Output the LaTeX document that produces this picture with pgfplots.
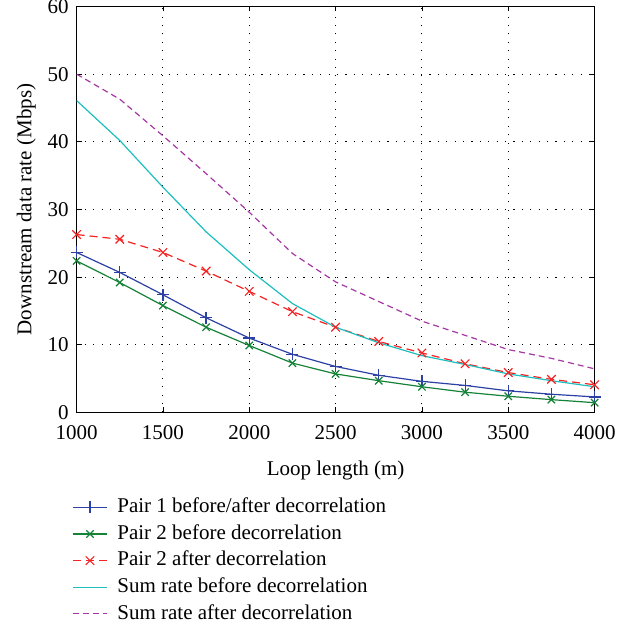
\documentclass[border=0pt]{standalone}
\usepackage{fontspec}
\setmainfont{Liberation Serif}
\usepackage{pgfplots}
\pgfplotsset{compat=1.18}

\definecolor{pairone}{RGB}{45,65,165}
\definecolor{pairtwo}{RGB}{20,130,55}
\definecolor{pairtwoafter}{RGB}{245,35,35}
\definecolor{sumbefore}{RGB}{30,190,190}
\definecolor{sumafter}{RGB}{165,55,165}

\begin{document}
\begin{tikzpicture}
\path[use as bounding box] (-38.3pt,-106.25pt) rectangle (277.2pt,206.25pt);
\begin{axis}[
    scale only axis,
    width=259pt,
    height=203pt,
    xmin=1000, xmax=4000,
    ymin=0, ymax=60,
    xtick={1000,1500,...,4000},
    ytick={0,10,...,60},
    /pgf/number format/1000 sep={},
    /pgf/number format/assume math mode=true,
    scaled x ticks=false,
    tick align=inside,
    major tick length=2.5pt,
    tick style={black, line width=0.4pt},
    axis line style={line width=0.6pt},
    grid=major,
    grid style={black, line width=0.55pt, dash pattern=on 0.55pt off 3.65pt},
    font=\fontsize{10.5pt}{12.5pt}\selectfont,
    tick label style={font=\fontsize{10.5pt}{12.5pt}\selectfont},
    xticklabel style={yshift=-3pt},
    yticklabel style={xshift=-0.5pt},
    xlabel={Loop length (m)},
    ylabel={Downstream data rate (Mbps)},
    xlabel style={at={(axis description cs:0.5,-0.1416)}, anchor=center},
    ylabel style={at={(axis description cs:-0.097,0.5)}, anchor=center},
    legend cell align=left,
    legend style={
        draw=none, fill=none,
        at={(axis description cs:-0.009,-0.2074)}, anchor=north west,
        inner sep=0pt, row sep=3.0pt, column sep=4.85pt,
        nodes={inner sep=0pt, text height=7.8pt, text depth=2.5pt},
        font=\fontsize{10.5pt}{12.5pt}\selectfont,
    },
    every axis plot/.append style={line width=0.6pt},
]

\addplot[color=pairone, mark=+, mark size=3pt] coordinates {
    (1000,23.65) (1250,20.7) (1500,17.4) (1750,14.0) (2000,11.0)
    (2250,8.6) (2500,6.8) (2750,5.5) (3000,4.6) (3250,4.0)
    (3500,3.2) (3750,2.7) (4000,2.3)
};
\addlegendentry{Pair 1 before/after decorrelation}

\addplot[color=pairtwo, mark=x, mark size=2.6pt] coordinates {
    (1000,22.4) (1250,19.2) (1500,15.8) (1750,12.6) (2000,9.9)
    (2250,7.3) (2500,5.7) (2750,4.7) (3000,3.8) (3250,3.0)
    (3500,2.4) (3750,1.9) (4000,1.45)
};
\addlegendentry{Pair 2 before decorrelation}

\addplot[color=pairtwoafter, mark=x, mark size=3pt, dash pattern=on 4pt off 2.5pt,
    mark options={solid}] coordinates {
    (1000,26.3) (1250,25.6) (1500,23.65) (1750,20.9) (2000,17.9)
    (2250,14.9) (2500,12.6) (2750,10.5) (3000,8.8) (3250,7.2)
    (3500,5.9) (3750,4.9) (4000,4.1)
};
\addlegendentry{Pair 2 after decorrelation}

\addplot[color=sumbefore, no marks] coordinates {
    (1000,46.1) (1250,40.2) (1500,33.3) (1750,26.7) (2000,21.1)
    (2250,16.1) (2500,12.6) (2750,10.3) (3000,8.4) (3250,7.1)
    (3500,5.7) (3750,4.7) (4000,3.8)
};
\addlegendentry{Sum rate before decorrelation}

\addplot[color=sumafter, no marks, dash pattern=on 3pt off 2pt] coordinates {
    (1000,50.0) (1250,46.3) (1500,40.9) (1750,35.3) (2000,29.6)
    (2250,23.5) (2500,19.3) (2750,16.4) (3000,13.5) (3250,11.4)
    (3500,9.3) (3750,8.0) (4000,6.45)
};
\addlegendentry{Sum rate after decorrelation}

\end{axis}
\end{tikzpicture}
\end{document}
